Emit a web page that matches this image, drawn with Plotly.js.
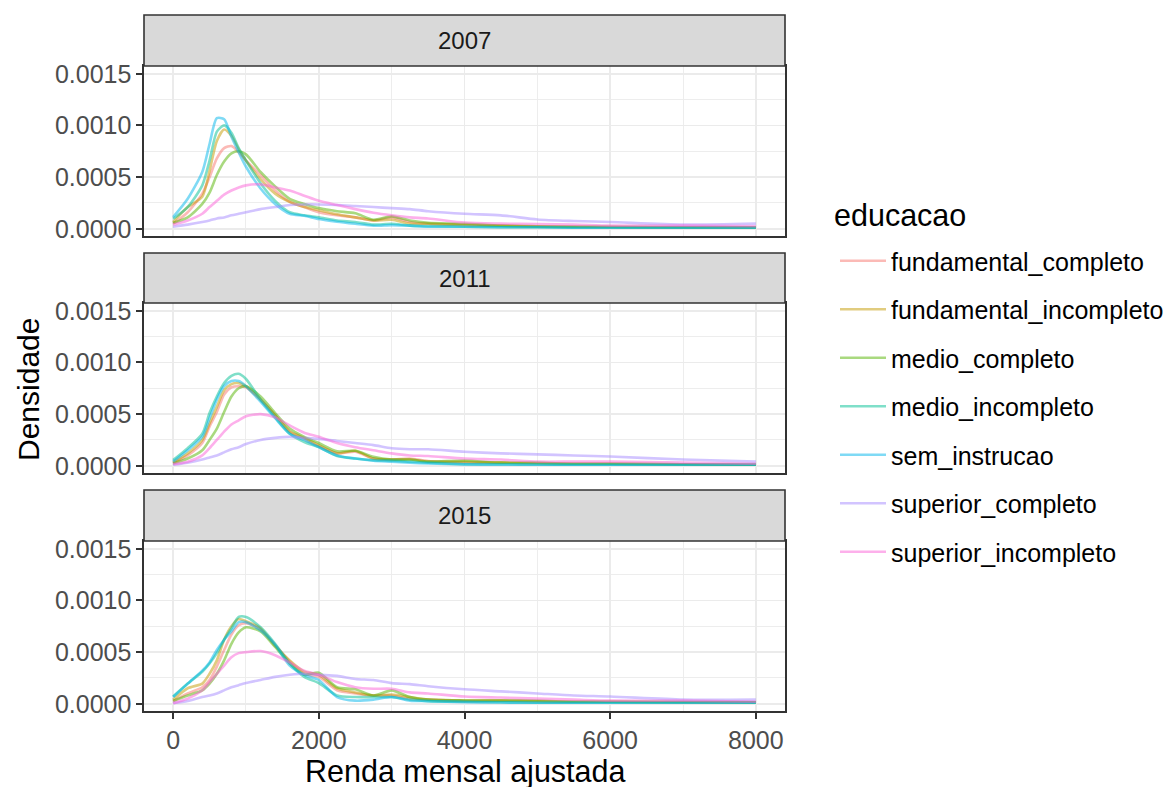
<!DOCTYPE html>
<html>
<head>
<meta charset="utf-8">
<script src="https://cdn.plot.ly/plotly-3.0.1.min.js"></script>
<style>
  html, body { margin: 0; padding: 0; background: #ffffff; }
  #grafico { width: 1163px; height: 787px; }
</style>
</head>
<body>
<div id="grafico"></div>
<script>
// Renda mensal ajustada (eixo x) onde as densidades foram avaliadas
const renda = [0, 200, 400, 500, 600, 700, 800, 900, 1000, 1200, 1400, 1600, 1800, 2000,
  2250, 2500, 2750, 3000, 3250, 3500, 4000, 4500, 5000, 5500, 6000, 7000, 8000];

const educacao = ['fundamental_completo', 'fundamental_incompleto', 'medio_completo',
  'medio_incompleto', 'sem_instrucao', 'superior_completo', 'superior_incompleto'];
const anos = ['2007', '2011', '2015'];
const ticksX = [0, 2000, 4000, 6000, 8000];
const ticksY = [0, 0.0005, 0.0010, 0.0015];

// ---- 2007 ----
const fundamental_completo_2007 = [0.000048, 0.00016, 0.00034, 0.0005, 0.00068, 0.00078, 0.0008, 0.00074, 0.00066, 0.00052, 0.00037, 0.00026, 0.00021, 0.00016, 0.00013, 0.00011, 0.00008, 0.00011, 0.000065, 0.000048, 0.00004, 0.00003, 0.000025, 0.00002, 0.00002, 0.000015, 0.000015];
const fundamental_incompleto_2007 = [0.000065, 0.00021, 0.00031, 0.00056, 0.00085, 0.00096, 0.0009, 0.00077, 0.00066, 0.00048, 0.00034, 0.00026, 0.00021, 0.00018, 0.00014, 0.00011, 0.00008, 0.000087, 0.00005, 0.00005, 0.000035, 0.00003, 0.00002, 0.00002, 0.000015, 0.000012, 0.00001];
const medio_completo_2007 = [0.000055, 0.00011, 0.00024, 0.00035, 0.00052, 0.00065, 0.00073, 0.00075, 0.00072, 0.00055, 0.00041, 0.00029, 0.00024, 0.0002, 0.00017, 0.00015, 0.000087, 0.00012, 0.00008, 0.000058, 0.000048, 0.00003, 0.000025, 0.00002, 0.00002, 0.000015, 0.000015];
const medio_incompleto_2007 = [0.000097, 0.00021, 0.00042, 0.00066, 0.00094, 0.001, 0.00093, 0.00078, 0.00066, 0.00044, 0.00027, 0.00016, 0.00013, 0.00011, 0.00008, 0.000065, 0.00004, 0.000048, 0.00003, 0.000026, 0.00002, 0.000015, 0.000015, 0.00001, 0.00001, 0.00001, 0.00001];
const sem_instrucao_2007 = [0.000113, 0.00029, 0.00055, 0.00082, 0.00107, 0.00106, 0.00089, 0.00074, 0.0006, 0.00039, 0.00024, 0.000145, 0.000126, 0.000094, 0.000068, 0.000048, 0.00003, 0.000035, 0.00003, 0.00002, 0.00002, 0.000015, 0.000015, 0.00001, 0.00001, 0.00001, 0.00001];
const superior_completo_2007 = [0.00002, 0.00004, 0.000065, 0.00008, 0.0001, 0.00011, 0.00013, 0.000145, 0.00016, 0.00019, 0.00021, 0.00023, 0.000235, 0.000235, 0.00023, 0.00022, 0.00021, 0.0002, 0.00019, 0.00017, 0.000145, 0.00013, 0.00009, 0.000075, 0.000065, 0.00004, 0.00005];
const superior_incompleto_2007 = [0.00004, 0.00008, 0.000145, 0.00021, 0.00027, 0.00033, 0.00037, 0.0004, 0.00042, 0.00043, 0.0004, 0.00037, 0.00032, 0.00027, 0.00023, 0.00019, 0.000155, 0.00013, 0.00011, 0.0001, 0.00006, 0.00005, 0.000045, 0.00004, 0.00003, 0.00003, 0.000025];

// ---- 2011 ----
const fundamental_completo_2011 = [0.000023, 0.0001, 0.00022, 0.00038, 0.00052, 0.00069, 0.00076, 0.00077, 0.00076, 0.00064, 0.00049, 0.00033, 0.00026, 0.00019, 0.00012, 0.000136, 0.00007, 0.00006, 0.00007, 0.000045, 0.000032, 0.00003, 0.000025, 0.00002, 0.00002, 0.000015, 0.00001];
const fundamental_incompleto_2011 = [0.000032, 0.00012, 0.00025, 0.00041, 0.00057, 0.00073, 0.00079, 0.0008, 0.00077, 0.00064, 0.00049, 0.00033, 0.00027, 0.0002, 0.00012, 0.000145, 0.00007, 0.00006, 0.00006, 0.00004, 0.00004, 0.00003, 0.000025, 0.00002, 0.00002, 0.000015, 0.00001];
const medio_completo_2011 = [0.000023, 0.00007, 0.00015, 0.00025, 0.00036, 0.00052, 0.00067, 0.00075, 0.00077, 0.00067, 0.00051, 0.00036, 0.00028, 0.00022, 0.00014, 0.000145, 0.000087, 0.00006, 0.00006, 0.00004, 0.00005, 0.00003, 0.00003, 0.00002, 0.00002, 0.000015, 0.00001];
const medio_incompleto_2011 = [0.000055, 0.00017, 0.00031, 0.00051, 0.00067, 0.0008, 0.00087, 0.00089, 0.00084, 0.00064, 0.00047, 0.00031, 0.00023, 0.00018, 0.000094, 0.00007, 0.000055, 0.00005, 0.00004, 0.00003, 0.000016, 0.000015, 0.000012, 0.00001, 0.00001, 0.00001, 0.00001];
const sem_instrucao_2011 = [0.00004, 0.00015, 0.00028, 0.00046, 0.00064, 0.00077, 0.00082, 0.00082, 0.00077, 0.00062, 0.00046, 0.00031, 0.00025, 0.00018, 0.0001, 0.00007, 0.000049, 0.00004, 0.00003, 0.000023, 0.000013, 0.00001, 0.00001, 0.00001, 0.00001, 0.00001, 0.00001];
const superior_completo_2011 = [0.00001, 0.00003, 0.00006, 0.00008, 0.0001, 0.00013, 0.00016, 0.00018, 0.00021, 0.00025, 0.00027, 0.00028, 0.00027, 0.00026, 0.00024, 0.00022, 0.0002, 0.00017, 0.00016, 0.00016, 0.000136, 0.00012, 0.00011, 0.0001, 0.00009, 0.00006, 0.00004];
const superior_incompleto_2011 = [0.000016, 0.00004, 0.0001, 0.00017, 0.00025, 0.00033, 0.0004, 0.00044, 0.00048, 0.0005, 0.00047, 0.00039, 0.00032, 0.00028, 0.00022, 0.00018, 0.00015, 0.00012, 0.0001, 0.000094, 0.00007, 0.00006, 0.00004, 0.00004, 0.00004, 0.00003, 0.00002];

// ---- 2015 ----
const fundamental_completo_2015 = [0.000026, 0.0001, 0.00016, 0.00023, 0.00036, 0.00052, 0.00067, 0.00076, 0.00078, 0.00072, 0.00057, 0.00041, 0.00029, 0.00026, 0.00013, 0.0001, 0.00008, 0.00008, 0.00005, 0.00004, 0.000026, 0.00003, 0.000025, 0.00002, 0.00002, 0.000015, 0.000015];
const fundamental_incompleto_2015 = [0.00004, 0.00015, 0.000195, 0.00029, 0.00042, 0.00062, 0.00075, 0.00082, 0.0008, 0.00073, 0.00056, 0.00042, 0.00031, 0.00028, 0.00015, 0.00011, 0.00008, 0.00009, 0.000065, 0.00004, 0.000032, 0.00003, 0.000025, 0.00002, 0.00002, 0.000015, 0.000015];
const medio_completo_2015 = [0.000026, 0.00008, 0.00013, 0.000195, 0.00029, 0.00042, 0.00058, 0.00069, 0.00074, 0.0007, 0.00055, 0.00039, 0.00028, 0.0003, 0.00016, 0.00014, 0.00008, 0.00013, 0.000065, 0.00004, 0.000032, 0.00003, 0.00003, 0.00002, 0.00002, 0.00002, 0.000015];
const medio_incompleto_2015 = [0.00007, 0.000195, 0.00031, 0.00039, 0.00049, 0.00062, 0.00073, 0.00084, 0.00084, 0.00074, 0.00058, 0.00039, 0.00026, 0.0002, 0.00008, 0.000065, 0.000065, 0.000065, 0.00004, 0.000026, 0.00002, 0.000015, 0.00001, 0.00001, 0.00001, 0.00001, 0.00001];
const sem_instrucao_2015 = [0.000065, 0.000195, 0.00032, 0.0004, 0.00052, 0.00062, 0.0007, 0.00079, 0.00079, 0.00071, 0.00057, 0.00037, 0.00028, 0.00023, 0.000065, 0.00003, 0.00004, 0.000065, 0.00003, 0.000026, 0.000016, 0.000012, 0.00001, 0.00001, 0.00001, 0.00001, 0.00001];
const superior_completo_2015 = [0.000006, 0.000026, 0.000065, 0.00008, 0.0001, 0.00013, 0.00016, 0.00018, 0.0002, 0.00023, 0.00026, 0.00028, 0.00029, 0.00028, 0.00027, 0.00024, 0.00023, 0.0002, 0.00019, 0.00017, 0.00014, 0.00012, 0.0001, 0.00008, 0.00007, 0.00004, 0.00004];
const superior_incompleto_2015 = [0.000006, 0.00005, 0.00013, 0.00021, 0.00029, 0.00037, 0.00045, 0.00049, 0.0005, 0.00051, 0.00047, 0.0004, 0.00032, 0.00028, 0.00021, 0.00016, 0.000145, 0.000145, 0.00011, 0.0001, 0.00007, 0.00006, 0.00005, 0.00004, 0.00003, 0.00003, 0.00002];

// Tabela ano -> curvas, na mesma ordem de "educacao"
const densidades = {
  '2007': [fundamental_completo_2007, fundamental_incompleto_2007, medio_completo_2007, medio_incompleto_2007, sem_instrucao_2007, superior_completo_2007, superior_incompleto_2007],
  '2011': [fundamental_completo_2011, fundamental_incompleto_2011, medio_completo_2011, medio_incompleto_2011, sem_instrucao_2011, superior_completo_2011, superior_incompleto_2011],
  '2015': [fundamental_completo_2015, fundamental_incompleto_2015, medio_completo_2015, medio_incompleto_2015, sem_instrucao_2015, superior_completo_2015, superior_incompleto_2015]
};

// Paleta hue do ggplot2 com alpha 0.5
const cores = ['rgba(248,118,109,0.5)', 'rgba(196,154,0,0.5)', 'rgba(83,180,0,0.5)',
  'rgba(0,192,148,0.5)', 'rgba(0,182,235,0.5)', 'rgba(165,138,255,0.5)', 'rgba(251,97,215,0.5)'];

const W = 1163, H = 787;
const px = v => v / W;
const py = v => 1 - v / H;

// Posição de cada painel (topo da faixa, topo e base da área de dados) em pixels
const paineis = [
  { faixa: 15, topo: 66, base: 236 },
  { faixa: 253, topo: 303, base: 473 },
  { faixa: 490, topo: 541, base: 711 }
];
const esq = 144, dir = 785;

const traces = [];
anos.forEach((ano, k) => {
  const sufixo = k === 0 ? '' : String(k + 1);
  educacao.forEach((nome, i) => {
    traces.push({
      type: 'scatter', mode: 'lines',
      x: renda, y: densidades[ano][i],
      xaxis: 'x' + sufixo, yaxis: 'y' + sufixo,
      name: nome, legendgroup: nome, showlegend: k === 0,
      line: { color: cores[i], width: 2.6, shape: 'spline', smoothing: 0.7 },
      hoverinfo: 'skip'
    });
  });
});

const fonte = 'Liberation Sans, Arial, sans-serif';
const layout = {
  width: W, height: H,
  margin: { l: 0, r: 0, t: 0, b: 0, autoexpand: false },
  paper_bgcolor: '#ffffff', plot_bgcolor: '#ffffff',
  font: { family: fonte, color: '#000000' },
  showlegend: true,
  legend: {
    x: px(835), y: py(238), xanchor: 'left', yanchor: 'top',
    font: { size: 25, color: '#000000' },
    traceorder: 'grouped', tracegroupgap: 13,
    bgcolor: 'rgba(0,0,0,0)', itemwidth: 46
  },
  shapes: [], annotations: []
};

paineis.forEach((p, k) => {
  const sufixo = k === 0 ? '' : String(k + 1);
  const ultimo = k === paineis.length - 1;
  layout['xaxis' + sufixo] = {
    domain: [px(esq), px(dir)], anchor: 'y' + sufixo, automargin: false,
    range: [-400, 8400], tickmode: 'array', tickvals: ticksX, tickformat: 'd',
    showticklabels: ultimo, ticks: ultimo ? 'outside' : '', ticklen: 6, tickwidth: 2, tickcolor: '#333333',
    tickfont: { size: 25, color: '#4D4D4D' },
    showgrid: true, gridcolor: '#EBEBEB', gridwidth: 1.8,
    minor: { tickmode: 'array', tickvals: [1000, 3000, 5000, 7000], showgrid: true, gridcolor: '#EBEBEB', gridwidth: 0.9, ticks: '' },
    showline: true, mirror: true, linecolor: '#333333', linewidth: 1.6,
    zeroline: false, fixedrange: true
  };
  layout['yaxis' + sufixo] = {
    domain: [py(p.base), py(p.topo)], anchor: 'x' + sufixo, automargin: false,
    range: [-0.00007, 0.001575], tickmode: 'array', tickvals: ticksY, tickformat: '.4f',
    ticks: 'outside', ticklen: 6, tickwidth: 2, tickcolor: '#333333',
    tickfont: { size: 25, color: '#4D4D4D' },
    showgrid: true, gridcolor: '#EBEBEB', gridwidth: 1.8,
    minor: { tickmode: 'array', tickvals: [0.00025, 0.00075, 0.00125], showgrid: true, gridcolor: '#EBEBEB', gridwidth: 0.9, ticks: '' },
    showline: true, mirror: true, linecolor: '#333333', linewidth: 1.6,
    zeroline: false, fixedrange: true
  };
  // faixa cinza com o ano
  layout.shapes.push({
    type: 'rect', xref: 'paper', yref: 'paper',
    x0: px(esq), x1: px(dir), y0: py(p.topo), y1: py(p.faixa),
    fillcolor: '#D9D9D9', line: { color: '#333333', width: 1.6 }, layer: 'above'
  });
  layout.annotations.push({
    xref: 'paper', yref: 'paper', x: px((esq + dir) / 2), y: py((p.faixa + p.topo) / 2),
    xanchor: 'center', yanchor: 'middle', showarrow: false,
    text: anos[k], font: { size: 24, color: '#1A1A1A' }
  });
});

// Títulos dos eixos e da legenda
layout.annotations.push({
  xref: 'paper', yref: 'paper', x: px((esq + dir) / 2), y: py(771),
  xanchor: 'center', yanchor: 'middle', showarrow: false,
  text: 'Renda mensal ajustada', font: { size: 30.5, color: '#000000' }
});
layout.annotations.push({
  xref: 'paper', yref: 'paper', x: px(28), y: py(390),
  xanchor: 'center', yanchor: 'middle', showarrow: false, textangle: -90,
  text: 'Densidade', font: { size: 30, color: '#000000' }
});
layout.annotations.push({
  xref: 'paper', yref: 'paper', x: px(832), y: py(215),
  xanchor: 'left', yanchor: 'middle', showarrow: false,
  text: 'educacao', font: { size: 30.5, color: '#000000' }
});

Plotly.newPlot('grafico', traces, layout, { staticPlot: true, displayModeBar: false });
</script>
</body>
</html>
